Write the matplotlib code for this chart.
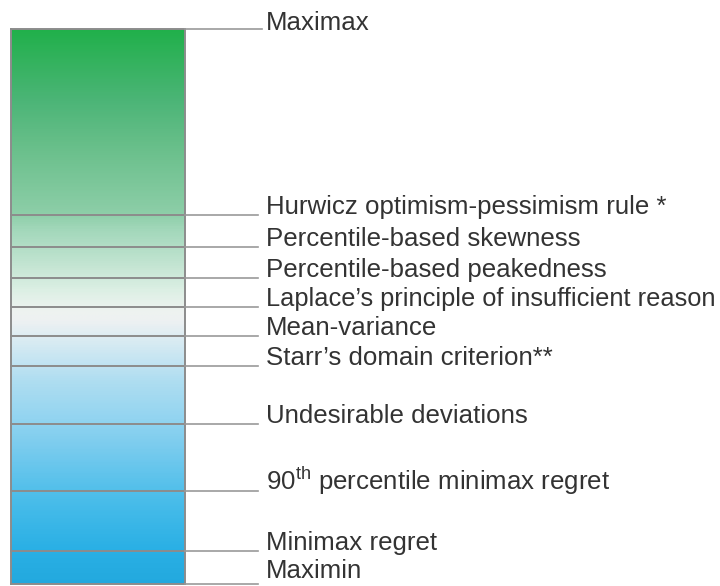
import matplotlib
matplotlib.use("Agg")
import matplotlib.pyplot as plt
import numpy as np
from matplotlib.colors import LinearSegmentedColormap

plt.rcParams['font.family'] = ['Liberation Sans', 'DejaVu Sans']
plt.rcParams['mathtext.fontset'] = 'custom'
plt.rcParams['mathtext.rm'] = 'Liberation Sans'

# Decision criteria, ordered from most optimistic (top) to most pessimistic (bottom)
labels = [
    "Maximax",
    "Hurwicz optimism-pessimism rule *",
    "Percentile-based skewness",
    "Percentile-based peakedness",
    "Laplace\u2019s principle of insufficient reason",
    "Mean-variance",
    "Starr\u2019s domain criterion**",
    "Undesirable deviations",
    "90$^{\\rm th}$ percentile minimax regret",
    "Minimax regret",
    "Maximin",
]
# position of each criterion on the optimism scale (0 = most pessimistic)
positions = [555, 369, 337, 306, 277, 248, 218, 160, 93, 33, 0]

# gradient colour stops (scale position, colour)
grad_pos = [0, 4, 34, 84, 134, 164, 204, 239, 264, 274, 294, 324, 354, 371, 434, 484, 555]
grad_col = ['#23a8df', '#24aadf', '#2ab0e5', '#4abdea', '#78cbee', '#92d4f0', '#b0def1',
            '#d5eaf3', '#eef1f2', '#eef3f0', '#dcefe4', '#bfe3cf', '#a3d8bb', '#8dcea8',
            '#6bc08c', '#4cb577', '#21b04b']

fig = plt.figure(figsize=(7.2, 5.86), dpi=100)
ax = fig.add_axes([0, 0, 1, 1])
ax.set_xlim(0, 720)
ax.set_ylim(-2, 584)
ax.axis('off')

bar_left, bar_right = 11, 185
top, bottom = max(positions), min(positions)

gmax = max(grad_pos)
cmap = LinearSegmentedColormap.from_list(
    'grad', [(p / gmax, c) for p, c in zip(grad_pos, grad_col)])
vals = np.linspace(bottom, top, 600).reshape(-1, 1)
ax.imshow(vals, cmap=cmap, vmin=0, vmax=gmax, aspect='auto', origin='lower',
          extent=[bar_left, bar_right, bottom, top], zorder=1, interpolation='bilinear')

line_col = '#8c8c8c'
lead_col = '#9a9a9a'
# outline of bar
ax.plot([bar_left, bar_left], [bottom, top], color=line_col, lw=1.4, zorder=3)
ax.plot([bar_right, bar_right], [bottom, top], color=line_col, lw=1.4, zorder=3)

for i, (lab, p) in enumerate(zip(labels, positions)):
    # divider across the bar
    ax.plot([bar_left, bar_right], [p, p], color=line_col, lw=1.4, zorder=3)
    # leader line
    end = 262 if p == top else 258
    ax.plot([bar_right, end], [p, p], color=lead_col, lw=1.2, zorder=3)
    if p == top:
        ty = p - 1
    elif p == bottom:
        ty = p + 6
    else:
        ty = p + 1
    fs = 18.3 if lab.startswith("Laplace") else 18.6
    ax.text(266, ty, lab, fontsize=fs, color='#333333', va='baseline', ha='left',
            zorder=4, clip_on=False)

fig.savefig('out.png', dpi=100, facecolor='white')
